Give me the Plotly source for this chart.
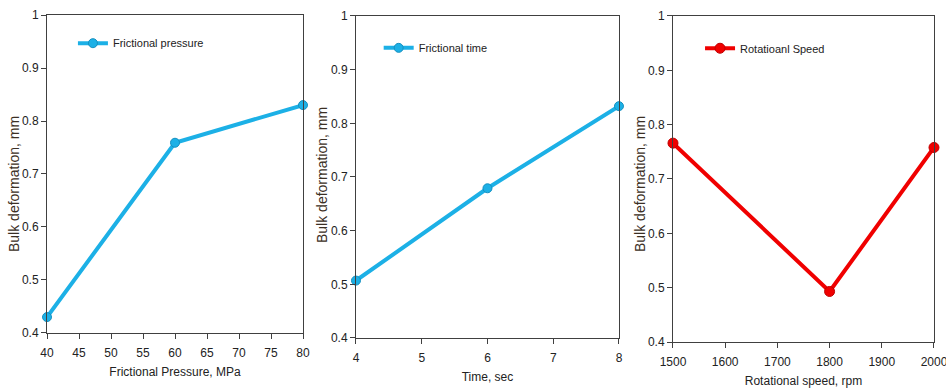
import plotly.graph_objects as go

# Bulk deformation vs. friction welding parameters
pressure_mpa = [40, 60, 80]
deform_pressure = [0.43, 0.759, 0.830]

time_sec = [4, 6, 8]
deform_time = [0.507, 0.679, 0.832]

speed_rpm = [1500, 1800, 2000]
deform_speed = [0.766, 0.493, 0.758]

y_ticks = [0.4, 0.5, 0.6, 0.7, 0.8, 0.9, 1.0]
y_tick_text = ["0.4", "0.5", "0.6", "0.7", "0.8", "0.9", "1"]
y_title = "Bulk deformation, mm"

BLUE = "#1CB0E6"
RED = "#F00000"
AXIS = "#404040"
TEXT = "#222222"
FONT = "Liberation Sans, Arial, sans-serif"
W, H = 946, 389

fig = go.Figure()

fig.add_trace(go.Scatter(
    x=pressure_mpa, y=deform_pressure, mode="lines+markers",
    name="Frictional pressure", line=dict(color=BLUE, width=4),
    marker=dict(size=9, color=BLUE, line=dict(color="#1590C0", width=1)),
    cliponaxis=False, xaxis="x", yaxis="y", legend="legend"))
fig.add_trace(go.Scatter(
    x=time_sec, y=deform_time, mode="lines+markers",
    name="Frictional time", line=dict(color=BLUE, width=4),
    marker=dict(size=9, color=BLUE, line=dict(color="#1590C0", width=1)),
    cliponaxis=False, xaxis="x2", yaxis="y2", legend="legend2"))
fig.add_trace(go.Scatter(
    x=speed_rpm, y=deform_speed, mode="lines+markers",
    name="Rotatioanl Speed", line=dict(color=RED, width=4),
    marker=dict(size=10, color=RED, line=dict(color="#C00000", width=1)),
    cliponaxis=False, xaxis="x3", yaxis="y3", legend="legend3"))


def xaxis(domain, rng, dtick, title, anchor):
    return dict(domain=domain, range=rng, dtick=dtick, tick0=rng[0],
                showline=True, linecolor=AXIS, linewidth=1, mirror=True,
                ticks="outside", ticklen=5, tickcolor=AXIS, showgrid=False,
                zeroline=False, anchor=anchor, automargin=False,
                ticklabelstandoff=4, ticklabeloverflow="allow",
                tickfont=dict(family=FONT, size=12, color=TEXT),
                title=dict(text=title, standoff=8,
                           font=dict(family=FONT, size=12, color=TEXT)))


def yaxis(domain, anchor):
    return dict(domain=domain, range=[0.4, 1.0], tickvals=y_ticks,
                ticktext=y_tick_text, showline=True, linecolor=AXIS,
                linewidth=1, mirror=True, ticks="outside", ticklen=5,
                tickcolor=AXIS, showgrid=False, zeroline=False, anchor=anchor,
                automargin=False, ticklabeloverflow="allow",
                tickfont=dict(family=FONT, size=12, color=TEXT))


def legend(x, y):
    return dict(x=x, y=y, xanchor="left", yanchor="middle",
                bgcolor="rgba(0,0,0,0)", itemwidth=30,
                font=dict(family=FONT, size=11, color=TEXT))


# vertical axis titles placed as rotated paper annotations
title_pos = [(14, 184), (322, 175), (640, 184)]
annotations = [
    dict(text=y_title, x=px / W, y=1 - py / H, xref="paper", yref="paper",
         textangle=-90, showarrow=False, xanchor="center", yanchor="middle",
         font=dict(family=FONT, size=14, color="#3b2f24"))
    for px, py in title_pos
]

fig.update_layout(
    width=W, height=H,
    margin=dict(l=0, r=0, t=0, b=0, autoexpand=False),
    paper_bgcolor="white", plot_bgcolor="white",
    showlegend=True,
    xaxis=xaxis([0.0497, 0.3203], [40, 80], 5, "Frictional Pressure, MPa", "y"),
    yaxis=yaxis([0.1440, 0.9614], "x"),
    xaxis2=xaxis([0.3763, 0.6543], [4, 8], 1, "Time, sec", "y2"),
    yaxis2=yaxis([0.1311, 0.9589], "x2"),
    xaxis3=xaxis([0.7114, 0.9873], [1500, 2000], 100, "Rotational speed, rpm", "y3"),
    yaxis3=yaxis([0.1208, 0.9589], "x3"),
    legend=legend(0.0771, 0.889),
    legend2=legend(0.4003, 0.877),
    legend3=legend(0.7400, 0.876),
    annotations=annotations,
)

fig.write_html("out.html")
